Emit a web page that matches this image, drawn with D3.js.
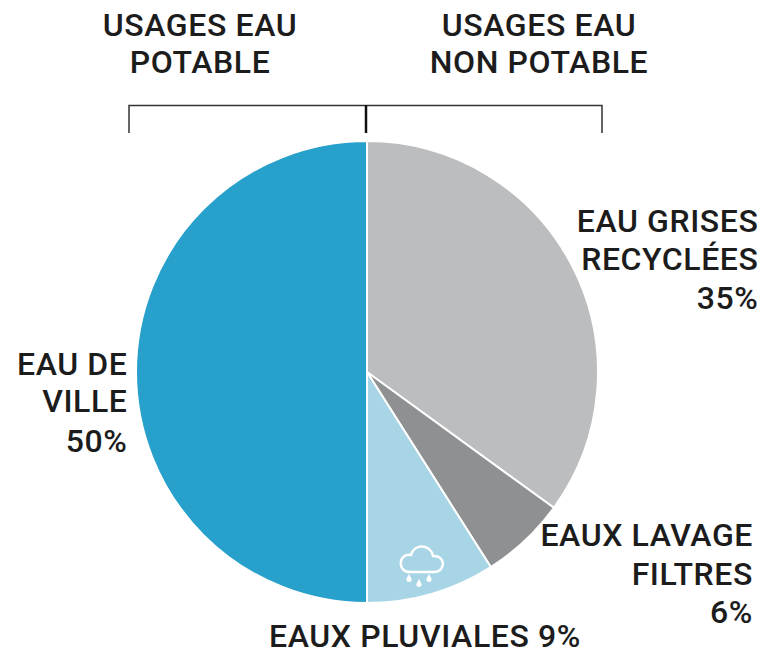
<!DOCTYPE html>
<html>
<head>
<meta charset="utf-8">
<script src="https://cdn.jsdelivr.net/npm/d3@7"></script>
<style>
  body { margin: 0; background: #fff; }
  svg { display: block; }
  text { font-family: "Roboto", sans-serif; font-weight: 500; font-size: 32px; letter-spacing: 0.6px; fill: #1c1c1c; }
</style>
</head>
<body>
<script>
// graph dimensions
var width = 770,
    height = 655,
    cx = 367,
    cy = 372,
    radius = 231;

// values, clockwise from the top
var categories = ['Eau grises recyclées', 'Eaux lavage filtres', 'Eaux pluviales', 'Eau de ville'];
var shares = [35, 6, 9, 50];
var colours = ['#bcbdbf', '#8f9092', '#a8d5e6', '#27a0cb'];

var svg = d3.select('body').append('svg')
    .attr('width', width)
    .attr('height', height);

var pie = d3.pie().sort(null).value(function(d) { return d; });
var arc = d3.arc().innerRadius(0).outerRadius(radius);

svg.append('g')
    .attr('transform', 'translate(' + cx + ',' + cy + ')')
    .selectAll('path')
    .data(pie(shares))
    .enter().append('path')
    .attr('d', arc)
    .attr('fill', function(d, i) { return colours[i]; })
    .attr('stroke', '#fff')
    .attr('stroke-width', 2);

// bracket above the pie
svg.append('path')
    .attr('d', 'M129,133V105.5H602V133')
    .attr('fill', 'none')
    .attr('stroke', '#333')
    .attr('stroke-width', 1.5);
svg.append('path')
    .attr('d', 'M366,105V133')
    .attr('stroke', '#111')
    .attr('stroke-width', 2.5);

// rain cloud icon
var icon = svg.append('g')
    .attr('transform', 'translate(422,560)');
icon.append('path')
    .attr('d', 'M-12,12 H12 C24,12 24,-5 11,-4 C9,-16 -8,-17 -11,-5 C-24,-7 -25,12 -12,12 Z')
    .attr('fill', 'none')
    .attr('stroke', '#fff')
    .attr('stroke-width', 2.5);
icon.selectAll('path.drop')
    .data([[-13, 18], [-3, 23], [7, 18]])
    .enter().append('path')
    .attr('class', 'drop')
    .attr('transform', function(d) { return 'translate(' + d[0] + ',' + d[1] + ')'; })
    .attr('d', 'M0,-4 L2.4,0.5 A2.6,2.6 0 1 1 -2.4,0.5 Z')
    .attr('fill', '#fff');

// labels
var labels = [
  {x: 200, y: 36, a: 'middle', t: 'USAGES EAU'},
  {x: 200, y: 73, a: 'middle', t: 'POTABLE'},
  {x: 539, y: 36, a: 'middle', t: 'USAGES EAU'},
  {x: 539, y: 73, a: 'middle', t: 'NON POTABLE'},
  {x: 758.5, y: 232, a: 'end', t: 'EAU GRISES'},
  {x: 758.5, y: 270, a: 'end', t: 'RECYCLÉES'},
  {x: 758.5, y: 309, a: 'end', t: '35%'},
  {x: 127.5, y: 375, a: 'end', t: 'EAU DE'},
  {x: 127.5, y: 412, a: 'end', t: 'VILLE'},
  {x: 127.5, y: 452, a: 'end', t: '50%'},
  {x: 753, y: 546, a: 'end', t: 'EAUX LAVAGE'},
  {x: 753, y: 585, a: 'end', t: 'FILTRES'},
  {x: 753, y: 623, a: 'end', t: '6%'},
  {x: 425, y: 647, a: 'middle', t: 'EAUX PLUVIALES 9%'}
];

svg.selectAll('text.label')
    .data(labels)
    .enter().append('text')
    .attr('class', 'label')
    .attr('x', function(d) { return d.x; })
    .attr('y', function(d) { return d.y; })
    .attr('text-anchor', function(d) { return d.a; })
    .text(function(d) { return d.t; });
</script>
</body>
</html>
